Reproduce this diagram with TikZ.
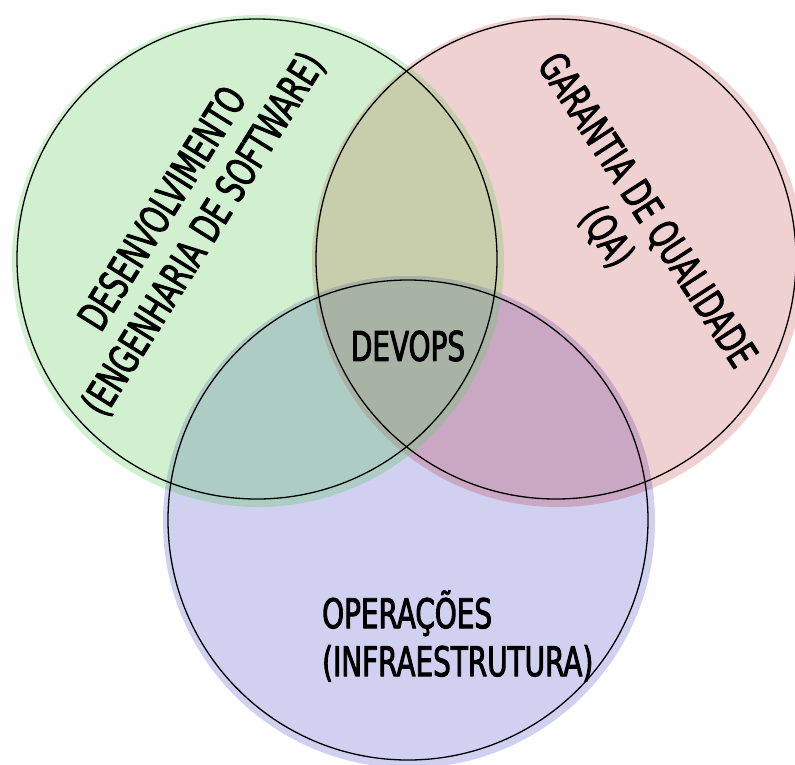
\documentclass[tikz,border=0pt]{standalone}
\usepackage{fontspec}
\setmainfont{DejaVu Sans}[FakeStretch=0.68, FakeBold=2.2]
\definecolor{devgreen}{RGB}{208,240,208}
\definecolor{qared}{RGB}{240,209,210}
\definecolor{opsblue}{RGB}{208,208,240}
\definecolor{devqa}{RGB}{200,206,172}
\definecolor{devops}{RGB}{172,204,196}
\definecolor{qaops}{RGB}{202,168,196}
\definecolor{allthree}{RGB}{168,178,165}
\tikzset{
	ring/.style={draw=black, line width=1.3pt},
	label/.style={font=\fontsize{41}{48}\selectfont, inner sep=0pt, align=center}
}
\begin{document}
\begin{tikzpicture}[x=1pt, y=-1pt, line join=round, line cap=round]
	\def\rf{246} \def\rr{240}
	\def\gdisc{(258,261) circle (\rf)}
	\def\rdisc{(558,261) circle (\rf)}
	\def\bdisc{(409,522) circle (\rf)}
	\useasboundingbox (0,0) rectangle (795,764);
	% fills
	\fill[devgreen] \gdisc;
	\fill[qared] \rdisc;
	\fill[opsblue] \bdisc;
	\begin{scope}
		\clip \gdisc; \fill[devqa] \rdisc;
	\end{scope}
	\begin{scope}
		\clip \gdisc; \fill[devops] \bdisc;
	\end{scope}
	\begin{scope}
		\clip \rdisc; \fill[qaops] \bdisc;
	\end{scope}
	\begin{scope}
		\clip \gdisc; \clip \rdisc; \fill[allthree] \bdisc;
	\end{scope}
	% outlines
	\draw[ring] (257,259) circle (\rr);
	\draw[ring] (556,259) circle (\rr);
	\draw[ring] (408,520) circle (\rr);
	% texts
	\node[label, rotate=58] (dev) at (184,222) {DESENVOLVIMENTO\\(ENGENHARIA DE SOFTWARE)};
	\node[label, rotate=-57] (qa) at (626,224) {GARANTIA DE QUALIDADE\\(QA)};
	\node[label, align=left, anchor=west] (ops) at (322,636) {OPERAÇÕES\\(INFRAESTRUTURA)};
	\node[label] (core) at (408,346) {DEVOPS};
\end{tikzpicture}
\end{document}
